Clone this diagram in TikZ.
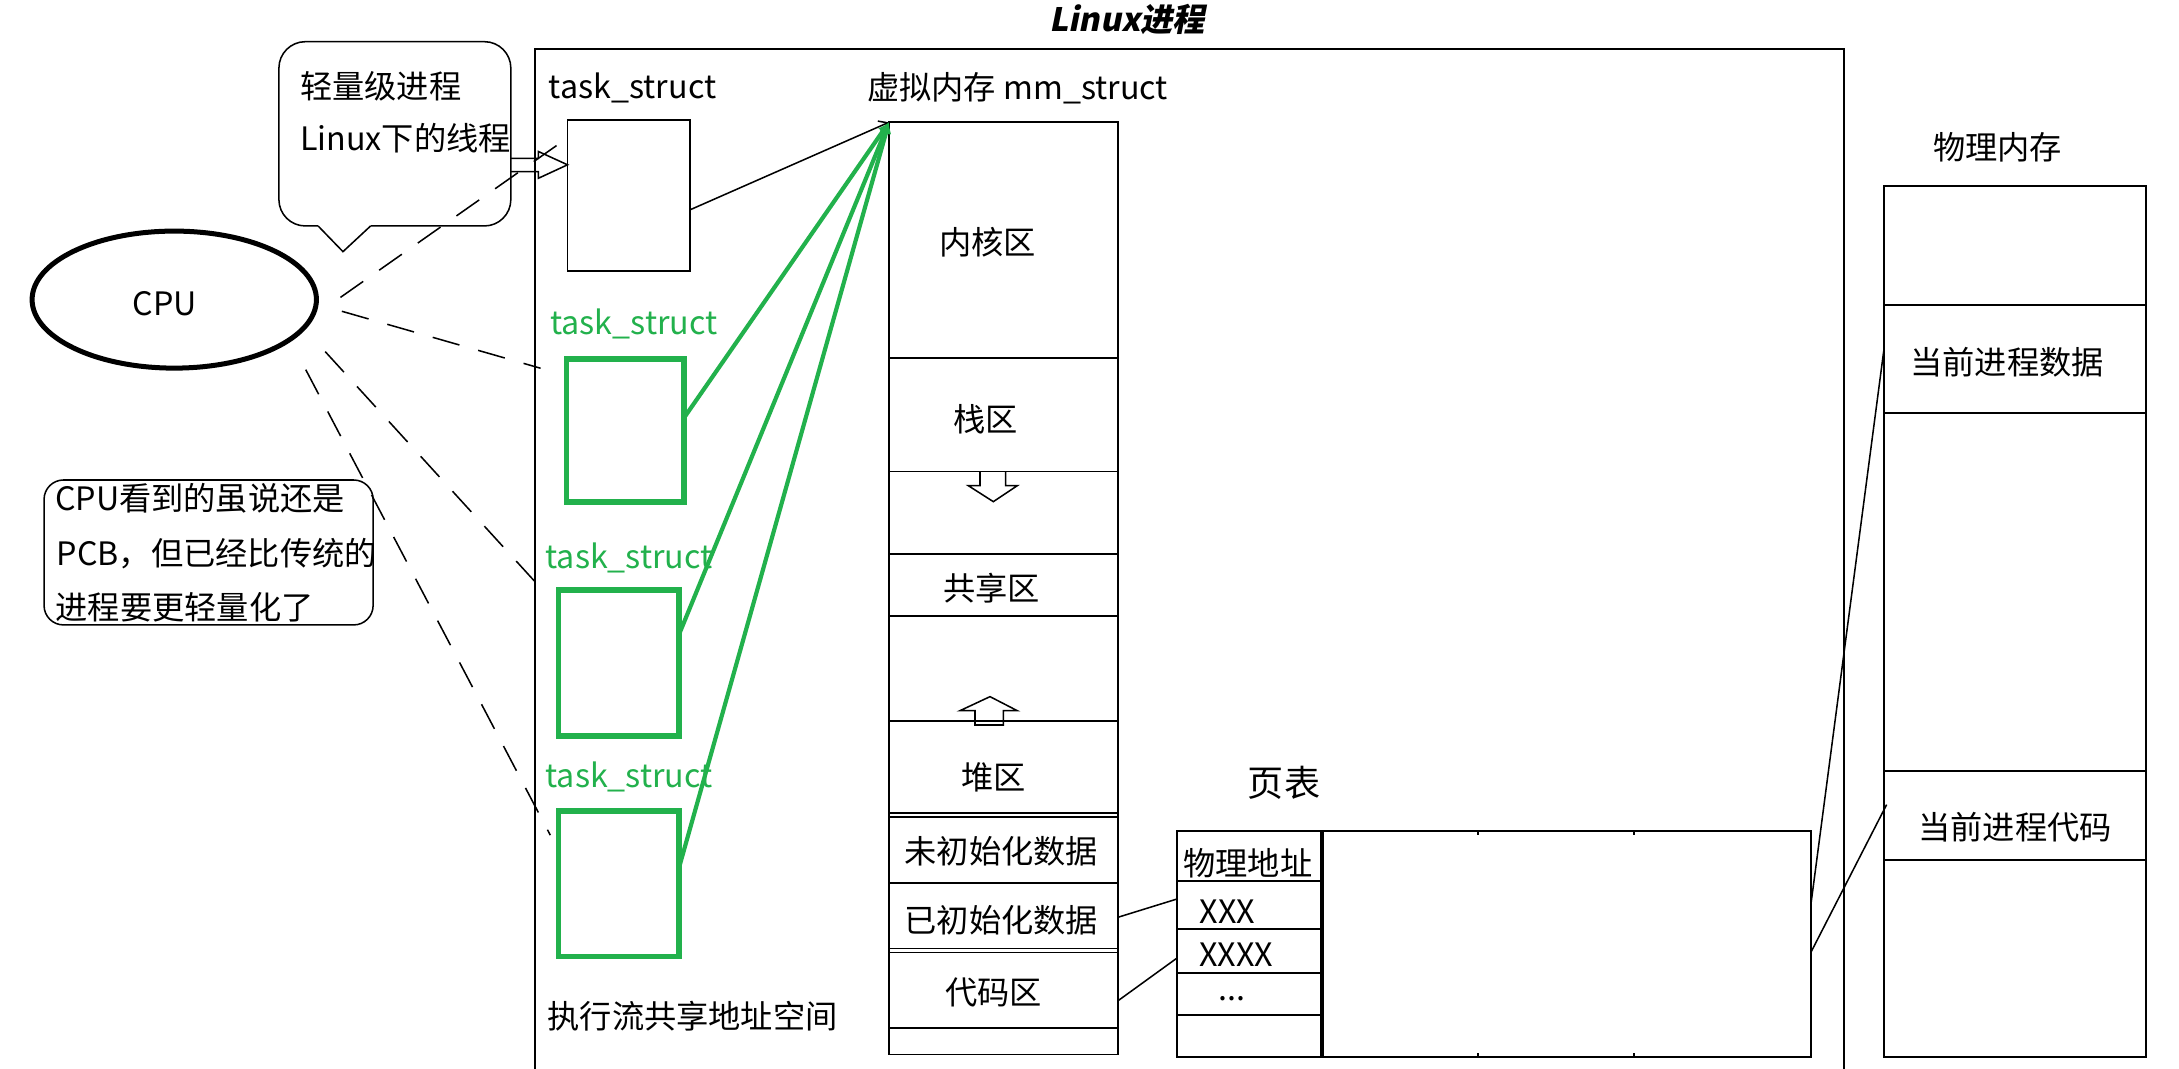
\documentclass[tikz,border=0pt]{standalone}
\usepackage{fontspec}
\setmainfont{Noto Sans CJK SC}
\newfontfamily\titlefont{Noto Sans CJK SC}[FakeSlant=0.2]
\usetikzlibrary{arrows.meta,shapes.geometric}
\definecolor{pgreen}{HTML}{22B14C}
\begin{document}
\begin{tikzpicture}[x=0.5pt,y=-0.5pt,
  every node/.style={inner sep=0pt,outer sep=0pt,font=\fontsize{11.6}{14}\selectfont},
  ln/.style={line width=0.55pt},
  frame/.style={draw,line width=0.7pt},
  gbox/.style={draw=pgreen,line width=2pt},
  gline/.style={draw=pgreen,line width=1.5pt,-{Latex[length=4pt,width=4pt]}},
  cpudash/.style={line width=0.55pt,dash pattern=on 10pt off 7pt},
  hollow/.style={line width=0.55pt,line join=miter}
]
\useasboundingbox (0,0) rectangle (1568,769);
\fill[white] (0,0) rectangle (1568,769);

% title and process frame
\node[anchor=base west,font=\titlefont\fontsize{11.6}{14}\selectfont\bfseries] (title) at (755,22.8) {Linux进程};
\draw[line width=0.75pt] (385,769) -- (385,35.5) -- (1326.7,35.5) -- (1326.7,769);

% upper callout
\draw[ln,rounded corners=9.5pt] (228.9,162.6) -- (200.7,162.6) -- (200.7,30) -- (367.6,30) -- (367.6,162.6) -- (266.7,162.6);
\draw[ln] (266.7,162.6) -- (246.8,181.1) -- (228.9,162.6);
\node[anchor=west] (lwp) at (216,62.4) {轻量级进程};
\node[anchor=base west] (lthr) at (216,108) {Linux下的线程};

% black task_struct
\node[anchor=base west] (tsl0) at (395,70.8) {task\_struct};
\node[frame,minimum width=44.15pt,minimum height=54.15pt] (ts0) at (452.5,140.75) {};

% hollow arrow callout -> task_struct
\draw[hollow] (367.6,114) -- (387.4,114) -- (387.4,109) -- (408.4,118.6) -- (387.4,128.3) -- (387.4,123.5) -- (367.6,123.5);

% green task_structs
\node[anchor=base west,text=pgreen] (tsl1) at (396,241) {task\_struct};
\node[gbox,minimum width=42.25pt,minimum height=51.5pt] (ts1) at (449.75,309.7) {};
\node[anchor=base west,text=pgreen] (tsl2) at (392.5,409.3) {task\_struct};
\node[gbox,minimum width=43.25pt,minimum height=52.55pt] (ts2) at (445.25,477.25) {};
\node[anchor=base west,text=pgreen] (tsl3) at (392.5,566.9) {task\_struct};
\node[gbox,minimum width=43.25pt,minimum height=52.3pt] (ts3) at (445.25,636) {};

% CPU
\node[draw,ellipse,line width=1.8pt,minimum width=102.3pt,minimum height=49.3pt] (cpu) at (125.4,215.6) {};
\node[anchor=base west] (cpul) at (95.7,226.7) {CPU};

% dashed CPU lines
\coordinate (c1) at (245,214); \coordinate (e1) at (403,103);
\coordinate (c2) at (246,224); \coordinate (e2) at (389,265);
\coordinate (c3) at (234,253); \coordinate (e3) at (389,423);
\coordinate (c4) at (220,266); \coordinate (e4) at (396,601);
\draw[cpudash] (c1) -- (e1);
\draw[cpudash] (c2) -- (e2);
\draw[cpudash] (c3) -- (e3);
\draw[cpudash] (c4) -- (e4);

% lower callout
\draw[ln,rounded corners=7pt] (31.7,345.4) rectangle (268.5,449.7);
\node[anchor=base west] (n1) at (39.6,367) {CPU看到的虽说还是};
\node[anchor=base west] (n2) at (40.8,406.6) {PCB，但已经比传统的};
\node[anchor=base west] (n3) at (40,446) {进程要更轻量化了};

\node[anchor=west] (share) at (394,731) {执行流共享地址空间};

% virtual memory column
\node[anchor=base west] (vml) at (624,71.4) {虚拟内存 mm\_struct};
\node[draw,line width=0.6pt,minimum width=82.5pt,minimum height=335.4pt] (vm) at (722.2,423.4) {};
\foreach \yy in {257.7,339.4,398.6,443.3,518.8,584.8,587.8,635.2,682.5,685.4,739.9}
  \draw[line width=0.6pt] (639.7,\yy) -- (804.7,\yy);
\node (k1) at (710.8,174) {内核区};
\node (k2) at (709.3,302) {栈区};
\node (k3) at (713.6,423.3) {共享区};
\node (k4) at (714.8,559.4) {堆区};
\node (k5) at (720.6,612.7) {未初始化数据};
\node (k6) at (720.6,662.3) {已初始化数据};
\node (k7) at (714.9,714.4) {代码区};
\draw[hollow] (705.2,339.4) -- (705.2,349.5) -- (696.8,349.5) -- (714.8,361) -- (732,349.5) -- (723.7,349.5) -- (723.7,339.4);
\draw[hollow] (701.6,521.7) -- (701.6,511.4) -- (690.8,511.4) -- (712.4,501.3) -- (732,511.4) -- (722,511.4) -- (722,521.7) -- cycle;

% connectors into mm_struct
\draw[ln,-{Straight Barb[length=3pt,width=4pt]}] ([yshift=-5.1pt]ts0.east) -- (vm.north west);
\draw[gline] ([yshift=4.35pt]ts1.east) -- (vm.north west);
\draw[gline] ([yshift=10.2pt]ts2.east) -- (vm.north west);
\draw[gline] ([yshift=5.6pt]ts3.east) -- (vm.north west);

% page table
\node[font=\fontsize{13}{15}\selectfont] (ptl) at (924,563) {页表};
\node[draw,line width=0.75pt,minimum width=228.15pt,minimum height=81.2pt] (pt) at (1074.85,679.2) {};
\draw[line width=1.4pt] (951,598) -- (951,760.4);
\foreach \yy in {633.7,668.3,700.1,730.4} \draw[line width=0.7pt] (846.7,\yy) -- (951,\yy);
\foreach \xx in {1063.6,1175.8} {
  \draw[line width=0.6pt] (\xx,598) -- (\xx,601);
  \draw[line width=0.6pt] (\xx,760.4) -- (\xx,757.4);
}
\node (pa0) at (898,621) {物理地址};
\node[anchor=base west] (pa1) at (863.5,664.4) {XXX};
\node[anchor=base west] (pa2) at (863,695.6) {XXXX};
\node[anchor=base west] (pa3) at (876.6,720.3) {...};

\coordinate (vd) at (804.7,660); \coordinate (vc) at (804.7,720);
\coordinate (pta) at (846.7,647); \coordinate (ptb) at (846.7,689.6);
\draw[ln] (vd) -- (pta);
\draw[ln] (vc) -- (ptb);

% physical memory
\node (pml) at (1437.5,106.3) {物理内存};
\node[draw,line width=0.7pt,minimum width=94.25pt,minimum height=313.3pt] (pm) at (1449.75,447.3) {};
\foreach \yy in {219.5,297,554.5,619} \draw[line width=0.7pt] (1355.5,\yy) -- (1544,\yy);
\node (pmd) at (1444.3,260.5) {当前进程数据};
\node (pmc) at (1450,595) {当前进程代码};
\coordinate (ra) at (1303,651.6); \coordinate (rb) at (1303,685.5);
\coordinate (ma) at (1355.5,252.6); \coordinate (mb) at (1357.6,579);
\draw[ln] (ra) -- (ma);
\draw[ln] (rb) -- (mb);
\end{tikzpicture}
\end{document}
